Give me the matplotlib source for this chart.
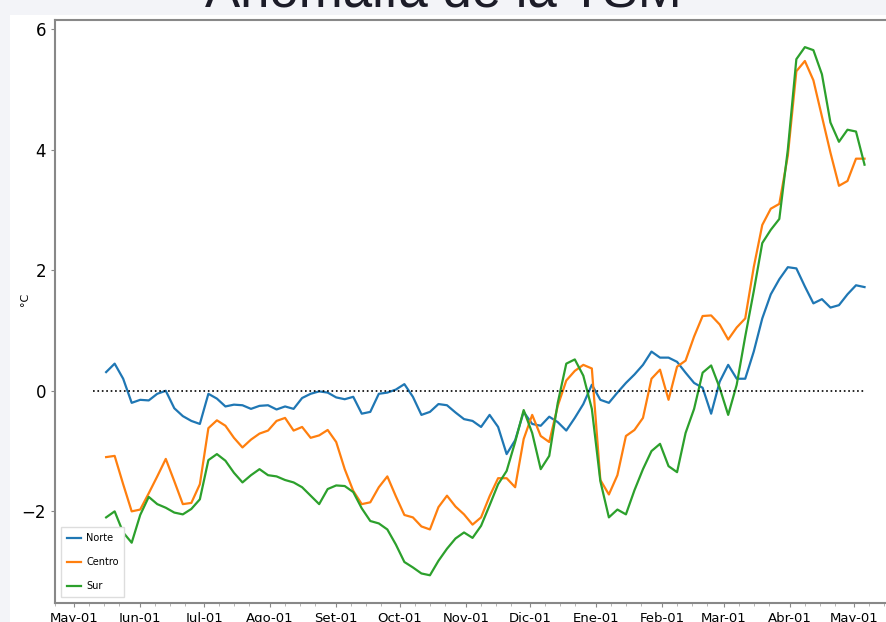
import matplotlib
matplotlib.use("Agg")
import matplotlib.pyplot as plt
import matplotlib.dates as mdates
from matplotlib.patches import Rectangle
import pandas as pd

# series sampled every 4 days, from 16 May to 6 May of the following year
fechas = pd.date_range("2023-05-16", periods=90, freq="4D")

norte = [
    0.31, 0.45, 0.20, -0.20, -0.15, -0.16, -0.05, 0.00, -0.29, -0.42,
    -0.50, -0.55, -0.05, -0.13, -0.26, -0.23, -0.24, -0.30, -0.25, -0.24,
    -0.31, -0.26, -0.30, -0.12, -0.05, -0.01, -0.03, -0.11, -0.14, -0.10,
    -0.38, -0.35, -0.05, -0.03, 0.02, 0.11, -0.10, -0.40, -0.35, -0.22,
    -0.24, -0.36, -0.47, -0.50, -0.60, -0.40, -0.60, -1.05, -0.82, -0.35,
    -0.55, -0.58, -0.43, -0.52, -0.66, -0.45, -0.22, 0.10, -0.15, -0.20,
    -0.03, 0.13, 0.27, 0.43, 0.65, 0.55, 0.55, 0.48, 0.30, 0.13,
    0.05, -0.38, 0.15, 0.43, 0.20, 0.20, 0.65, 1.20, 1.60, 1.85,
    2.05, 2.03, 1.73, 1.45, 1.52, 1.38, 1.42, 1.60, 1.75, 1.72,
]
centro = [
    -1.10, -1.08, -1.55, -2.00, -1.97, -1.70, -1.42, -1.13, -1.50, -1.88,
    -1.86, -1.55, -0.62, -0.49, -0.58, -0.78, -0.94, -0.81, -0.71, -0.66,
    -0.50, -0.45, -0.66, -0.60, -0.78, -0.74, -0.65, -0.85, -1.30, -1.66,
    -1.88, -1.85, -1.60, -1.42, -1.75, -2.06, -2.10, -2.25, -2.30, -1.93,
    -1.74, -1.92, -2.05, -2.22, -2.10, -1.75, -1.45, -1.45, -1.60, -0.80,
    -0.40, -0.75, -0.85, -0.25, 0.17, 0.33, 0.43, 0.37, -1.48, -1.72,
    -1.40, -0.75, -0.65, -0.45, 0.20, 0.35, -0.15, 0.40, 0.50, 0.90,
    1.24, 1.25, 1.10, 0.85, 1.05, 1.20, 2.05, 2.75, 3.02, 3.10,
    3.90, 5.30, 5.47, 5.15, 4.55, 3.95, 3.40, 3.48, 3.85, 3.85,
]
sur = [
    -2.10, -2.00, -2.35, -2.52, -2.06, -1.76, -1.88, -1.94, -2.02, -2.05,
    -1.96, -1.80, -1.15, -1.05, -1.16, -1.36, -1.52, -1.40, -1.30, -1.40,
    -1.42, -1.48, -1.52, -1.60, -1.74, -1.88, -1.63, -1.57, -1.58, -1.68,
    -1.95, -2.16, -2.20, -2.30, -2.55, -2.84, -2.93, -3.03, -3.06, -2.82,
    -2.62, -2.45, -2.35, -2.44, -2.24, -1.90, -1.55, -1.33, -0.85, -0.32,
    -0.70, -1.30, -1.08, -0.20, 0.45, 0.52, 0.25, -0.30, -1.50, -2.10,
    -1.97, -2.05, -1.65, -1.30, -1.00, -0.88, -1.25, -1.35, -0.70, -0.30,
    0.30, 0.42, 0.05, -0.40, 0.10, 0.90, 1.65, 2.45, 2.67, 2.85,
    4.00, 5.50, 5.70, 5.65, 5.25, 4.45, 4.13, 4.33, 4.30, 3.75,
]

meses = pd.date_range("2023-05-01", "2024-05-01", freq="MS")
etiquetas = ["May-01", "Jun-01", "Jul-01", "Ago-01", "Set-01", "Oct-01", "Nov-01",
             "Dic-01", "Ene-01", "Feb-01", "Mar-01", "Abr-01", "May-01"]

W, H = 887, 622
fig = plt.figure(figsize=(W / 100, H / 100), dpi=100)
fig.patch.set_facecolor("#f3f4f8")

# white panel behind the chart
fig.patches.append(Rectangle((10 / W, 0), 1, 1 - 15 / H, transform=fig.transFigure,
                             facecolor="white", edgecolor="none", zorder=0))

fig.text(0.5, 1 - 8 / H, "Anomalía de la TSM", ha="center", va="baseline",
         fontsize=38, color="#1c1c28", family="Liberation Sans")

ax = fig.add_axes([55 / W, 1 - 603 / H, 850 / W, 583 / H])
ax.set_zorder(2)
ax.set_facecolor("none")

ax.plot(fechas, norte, color="tab:blue", lw=1.6, label="Norte")
ax.plot(fechas, centro, color="tab:orange", lw=1.6, label="Centro")
ax.plot(fechas, sur, color="tab:green", lw=1.6, label="Sur")
ax.hlines(0, pd.Timestamp("2023-05-10"), pd.Timestamp("2024-05-06"),
          colors="black", linestyles=":", lw=1.2)

ax.set_xlim(pd.Timestamp("2023-04-22"), pd.Timestamp("2024-05-25"))
ax.set_ylim(-3.52, 6.15)

ax.set_xticks(meses)
ax.set_xticklabels(etiquetas, fontsize=9.5)
ax.xaxis.set_minor_locator(mdates.DayLocator(bymonthday=[8, 15, 22]))
ax.set_yticks([-2, 0, 2, 4, 6])
ax.set_yticklabels(["\u22122", "0", "2", "4", "6"], fontsize=12)
ax.tick_params(axis="both", which="major", length=3, color="#888888")
ax.tick_params(axis="x", which="minor", length=2, color="#aaaaaa")
ax.set_ylabel("°C", fontsize=8)
ax.yaxis.set_label_coords(-25 / 850, 0.52)

for s in ax.spines.values():
    s.set_color("#888888")
    s.set_linewidth(1.5)

leg = ax.legend(loc="lower left", prop={"size": 7}, handlelength=1.5,
                labelspacing=1.45, handletextpad=0.5, borderpad=0.6,
                borderaxespad=0.6, framealpha=1, edgecolor="#dddddd",
                fancybox=False)

fig.savefig("out.png", dpi=100, facecolor=fig.get_facecolor())
